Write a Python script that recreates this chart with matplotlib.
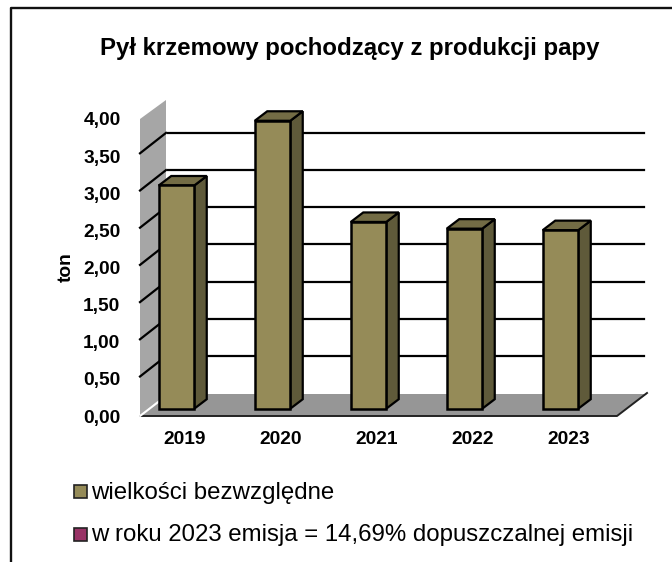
import matplotlib
matplotlib.use('Agg')
import numpy as np
import matplotlib.pyplot as plt
from matplotlib.patches import Polygon, Rectangle

plt.rcParams['font.family'] = ['Liberation Sans', 'DejaVu Sans']

years = ['2019', '2020', '2021', '2022', '2023']
values = [3.00, 3.87, 2.51, 2.42, 2.40]
grid_values = [0.5, 1.0, 1.5, 2.0, 2.5, 3.0, 3.5]
tick_values = [0.0, 0.5, 1.0, 1.5, 2.0, 2.5, 3.0, 3.5, 4.0]
tick_labels = ['0,00', '0,50', '1,00', '1,50', '2,00', '2,50', '3,00', '3,50', '4,00']
legend_labels = ['wielkości bezwzględne', 'w roku 2023 emisja = 14,69% dopuszczalnej emisji']
legend_colours = ['#958B58', '#993366']

W, H = 672, 562
X0, DX = 176.5, 96.0    # pixel of first bar centre, pixels per category
Y0, DY = 408.7, 74.4    # pixel of value 0 on the bar plane, pixels per unit


def px(x):
    return (x - X0) / DX


def py(y):
    return (Y0 - y) / DY


fig = plt.figure(figsize=(W / 100, H / 100), dpi=100)
ax = fig.add_axes([0, 0, 1, 1])
ax.set_xlim(px(0), px(W))
ax.set_ylim(py(H), py(0))
ax.axis('off')

# outer frame: left and top only are in the crop
ax.plot([px(11), px(11), px(W)], [py(H), py(7.5), py(7.5)],
        color='#111111', lw=1.7, zorder=1, clip_on=False)

# wall and floor
wall = [(px(140), py(416)), (px(140), py(119)), (px(166), py(100)), (px(166), py(394))]
ax.add_patch(Polygon(wall, closed=True, fc='#A6A6A6', ec='none', zorder=2))
floor = [(px(140), py(416)), (px(166), py(394)), (px(647), py(394)), (px(617), py(416))]
ax.add_patch(Polygon(floor, closed=True, fc='#969696', ec='none', zorder=3))
ax.plot([px(140), px(617), px(647)], [py(416), py(416), py(393)], color='#222222', lw=1.4, zorder=4)
ax.plot([px(140), px(166)], [py(416), py(396)], color='white', lw=1.5, zorder=4)

# grid lines: slanted on the wall, flat behind the bars
for v in grid_values:
    back = v + 15.4 / DY
    front = v - 5.0 / DY
    ax.plot([px(140), px(166)], [front, back], color='black', lw=1.6, zorder=4)
    ax.plot([px(168), px(644)], [back, back], color='black', lw=1.6, zorder=4)

# bars with their side and top faces
x = np.arange(len(years))
width = 35.5 / DX
side = 12.5 / DX
up = 9.5 / DY
ax.bar(x, values, width=width, color='#958B58', edgecolor='black', lw=1.8, zorder=6)
for xi, v in zip(x, values):
    r = xi + width / 2
    l = xi - width / 2
    ax.add_patch(Polygon([(r, 0), (r + side, up), (r + side, v + up), (r, v)], closed=True,
                         fc='#5F5A3A', ec='black', lw=1.6, zorder=5))
    ax.add_patch(Polygon([(l, v), (l + side, v + up), (r + side, v + up), (r, v)], closed=True,
                         fc='#736C45', ec='black', lw=1.6, zorder=5))

# axis texts
for v, lab in zip(tick_values, tick_labels):
    ax.text(px(120.5), py(418 - v * 74.25), lab, ha='right', va='center',
            fontsize=13.8, fontweight='bold', color='black')
for xi, lab in zip(x, years):
    ax.text(xi + 8.5 / DX, py(439), lab, ha='center', va='center',
            fontsize=13.8, fontweight='bold', color='black')
ax.text(px(66.5), py(267), 'ton', rotation=90, ha='center', va='center',
        fontsize=13.8, fontweight='bold', color='black')
ax.text(px(350), py(48), 'Pył krzemowy pochodzący z produkcji papy', ha='center', va='center',
        fontsize=17.3, fontweight='bold', color='black')

# legend
for lab, col, y in zip(legend_labels, legend_colours, [491.5, 534]):
    ax.add_patch(Rectangle((px(74), py(y + 6.5)), 13 / DX, 13 / DY, fc=col, ec='#222222', lw=1.2, zorder=5))
    ax.text(px(91.5), py(y + 1.5), lab, ha='left', va='center', fontsize=17.3, color='black')

fig.savefig('out.png', dpi=100)
